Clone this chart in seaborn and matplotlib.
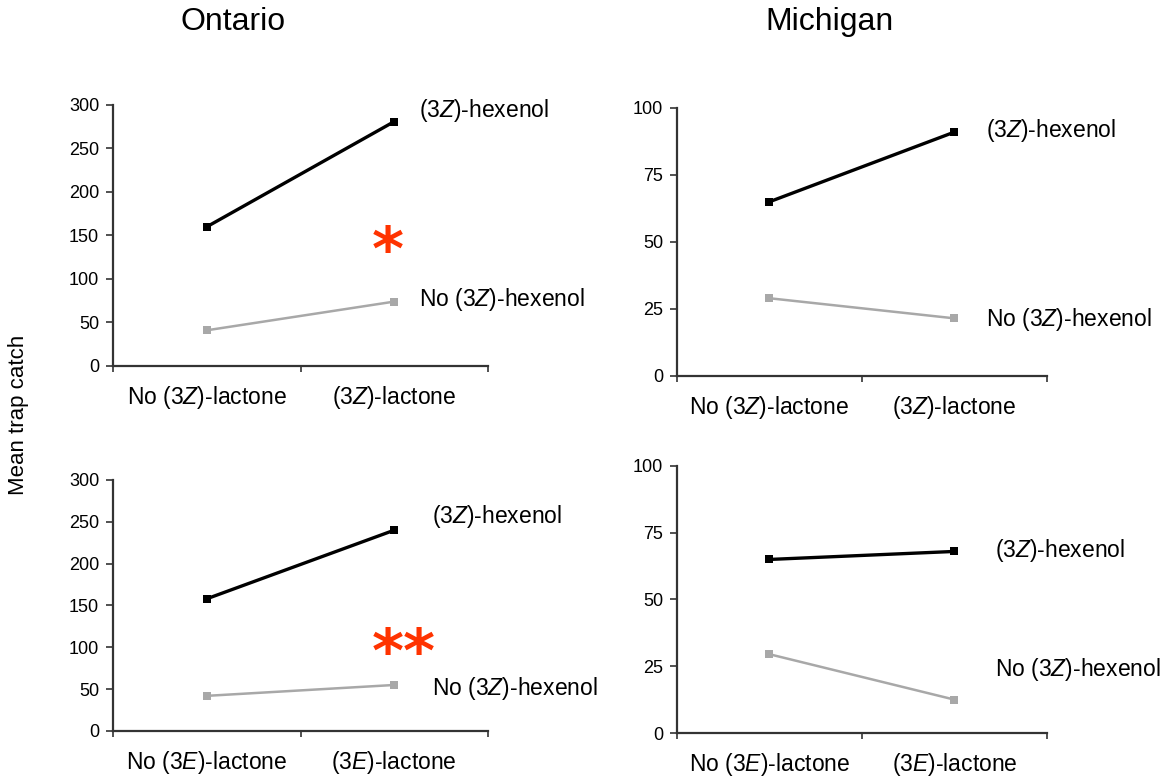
import matplotlib
matplotlib.use("Agg")
import pandas as pd
import matplotlib.pyplot as plt
import seaborn as sns

sns.set_theme(style="white")
plt.rcParams['font.family'] = ['Liberation Sans', 'DejaVu Sans']
plt.rcParams['mathtext.fontset'] = 'custom'
plt.rcParams['mathtext.rm'] = 'Liberation Sans'
plt.rcParams['mathtext.it'] = 'Liberation Sans:italic'
plt.rcParams['text.color'] = 'black'
plt.rcParams['xtick.color'] = 'black'
plt.rcParams['ytick.color'] = 'black'

# ---- data ----
series = ['(3$\\mathit{Z}$)-hexenol', 'No (3$\\mathit{Z}$)-hexenol']
z_lactone = ['No (3$\\mathit{Z}$)-lactone', '(3$\\mathit{Z}$)-lactone']
e_lactone = ['No (3$\\mathit{E}$)-lactone', '(3$\\mathit{E}$)-lactone']

ontario_z_hex = [160, 281]
ontario_z_nohex = [41, 74]
michigan_z_hex = [65, 91]
michigan_z_nohex = [29, 21.5]
ontario_e_hex = [158, 240]
ontario_e_nohex = [42, 55]
michigan_e_hex = [65, 68]
michigan_e_nohex = [29.5, 12.5]

ontario_ticks = [0, 50, 100, 150, 200, 250, 300]
michigan_ticks = [0, 25, 50, 75, 100]

colors = {series[0]: '#000000', series[1]: '#a8a8a8'}
widths = {series[0]: 2.4, series[1]: 1.8}


def make_df(cats, hex_vals, nohex_vals):
    return pd.DataFrame({
        'lactone': cats * 2,
        'hexenol': [series[0]] * 2 + [series[1]] * 2,
        'catch': hex_vals + nohex_vals,
    })


panels = [
    # df, rect, ticks, label positions (x, y_hex, y_nohex), star
    (make_df(z_lactone, ontario_z_hex, ontario_z_nohex),
     [0.0967, 0.5284, 0.3208, 0.3363], ontario_ticks, (0.815, 0.978, 0.253), ('*', 0.732, 0.43)),
    (make_df(z_lactone, michigan_z_hex, michigan_z_nohex),
     [0.5791, 0.5155, 0.3165, 0.3454], michigan_ticks, (0.835, 0.914, 0.209), None),
    (make_df(e_lactone, ontario_e_hex, ontario_e_nohex),
     [0.0967, 0.0580, 0.3208, 0.3235], ontario_ticks, (0.85, 0.853, 0.171), ('**', 0.774, 0.30)),
    (make_df(e_lactone, michigan_e_hex, michigan_e_nohex),
     [0.5791, 0.0554, 0.3165, 0.3441], michigan_ticks, (0.86, 0.682, 0.236), None),
]

fig = plt.figure(figsize=(11.69, 7.76), dpi=100)

for df, rect, ticks, labpos, star in panels:
    ax = fig.add_axes(rect)
    for s in series:
        sub = df[df['hexenol'] == s]
        sns.lineplot(data=sub, x='lactone', y='catch', color=colors[s],
                     linewidth=widths[s], marker='s', markersize=6,
                     markeredgewidth=0, sort=False, legend=False, ax=ax)
    ax.set_xlim(-0.5, 1.5)
    ax.set_ylim(0, ticks[-1])
    ax.set_yticks(ticks)
    ax.set_xlabel('')
    ax.set_ylabel('')
    ax.tick_params(axis='y', labelsize=13, length=5, width=1.2, color='#333333',
                   left=True, pad=5)
    ax.tick_params(axis='x', labelsize=16.5, length=0, pad=13)
    ax.set_xticks([-0.5, 0.5, 1.5], minor=True)
    ax.tick_params(axis='x', which='minor', length=4, width=1.2, color='#333333',
                   bottom=True)
    sns.despine(ax=ax)
    for sp in ['left', 'bottom']:
        ax.spines[sp].set_color('#333333')
        ax.spines[sp].set_linewidth(1.6)
    ax.patch.set_alpha(0)

    lx, ly1, ly2 = labpos
    ax.text(lx, ly1, series[0], transform=ax.transAxes, fontsize=16.5,
            ha='left', va='center', clip_on=False)
    ax.text(lx, ly2, series[1], transform=ax.transAxes, fontsize=16.5,
            ha='left', va='center', clip_on=False)
    if star:
        txt, sx, sy = star
        ax.text(sx, sy, txt, transform=ax.transAxes, fontsize=44,
                color='#ff3300', fontweight='bold', family='DejaVu Sans',
                ha='center', va='center', clip_on=False)

fig.text(0.199, 0.972, 'Ontario', fontsize=23, ha='center', va='center')
fig.text(0.710, 0.972, 'Michigan', fontsize=23, ha='center', va='center')
fig.text(0.0154, 0.465, 'Mean trap catch', fontsize=16, rotation=90,
         ha='center', va='center')

fig.savefig('out.png', dpi=100)
